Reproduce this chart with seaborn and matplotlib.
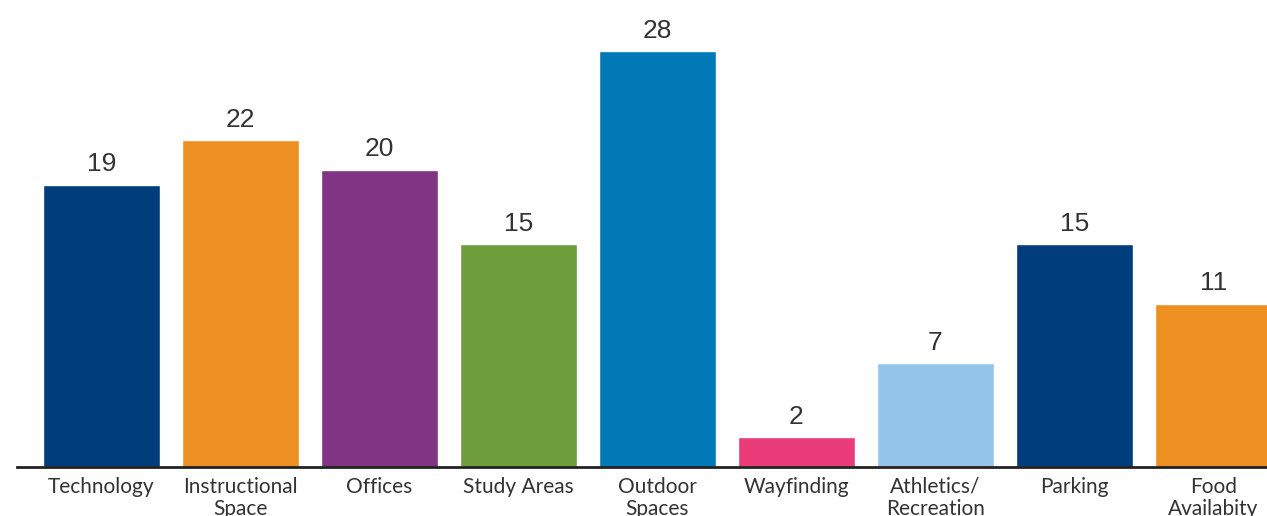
import matplotlib
matplotlib.use("Agg")
import matplotlib.pyplot as plt
import seaborn as sns
import pandas as pd

categories = ["Technology", "Instructional\nSpace", "Offices", "Study Areas",
              "Outdoor\nSpaces", "Wayfinding", "Athletics/\nRecreation",
              "Parking", "Food\nAvailabity"]
values = [19, 22, 20, 15, 28, 2, 7, 15, 11]
colors = ["#003D7C", "#EE8F22", "#7F3484", "#6E9E3C", "#0079B6",
          "#EA3C78", "#94C4EA", "#003D7C", "#EE8F22"]

sns.set_theme(style="white")
plt.rcParams["font.family"] = ["Liberation Sans", "DejaVu Sans"]

df = pd.DataFrame({"category": categories, "value": values})

fig = plt.figure(figsize=(12.67, 5.16), dpi=100)
ax = fig.add_axes([17 / 1267, 49 / 516, 1 - 17 / 1267, 1 - 49 / 516])

sns.barplot(data=df, x="category", y="value", hue="category",
            palette=colors, legend=False, width=0.84, saturation=1,
            ax=ax)

for container in ax.containers:
    ax.bar_label(container, fmt="%d", padding=6, fontsize=19,
                 color="#333333")

ax.set_xlim(-0.608, 8.385)
ax.set_ylim(0, 31.43)
ax.set_xlabel("")
ax.set_ylabel("")
ax.set_yticks([])
ax.tick_params(axis="x", length=0, pad=7)
for lbl in ax.get_xticklabels():
    lbl.set_fontfamily(["Lato", "DejaVu Sans"])
    lbl.set_fontsize(15)
    lbl.set_color("#333333")
    lbl.set_linespacing(1.15)
    lbl.set_verticalalignment("top")

for side in ["top", "right", "left"]:
    ax.spines[side].set_visible(False)
ax.spines["bottom"].set_color("#222222")
ax.spines["bottom"].set_linewidth(2)

fig.savefig("out.png", dpi=100)
